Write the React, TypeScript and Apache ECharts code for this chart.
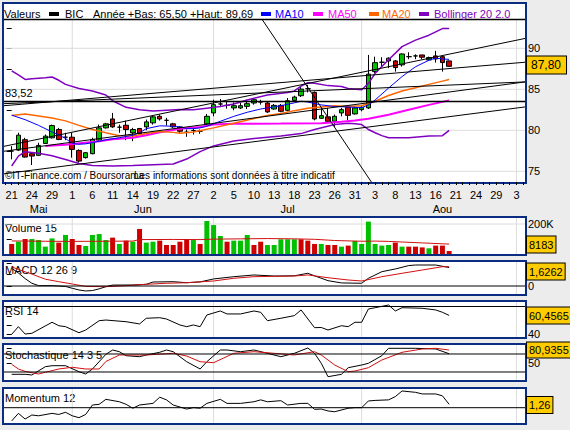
import React, { useEffect, useRef } from 'react';
import * as echarts from 'echarts';

const FONT = '"Liberation Sans", Arial, Helvetica, sans-serif';

// ---- x axis (trading-day index, 0 = 21 May) ----
const dateTickIdx = [0, 3, 6, 9, 12, 15, 18, 21, 24, 27, 30, 33, 36, 39, 42, 45, 48, 51, 54, 57, 60, 63, 66, 69, 72, 75];
const dateTickLabels = ['21', '24', '29', '1', '6', '11', '14', '19', '22', '27', '2', '5', '10', '13', '18', '23', '26', '31', '3', '8', '13', '16', '21', '24', '29', '3'];
const monthPos = [4, 19.5, 41, 64];
const monthLabels = ['Mai', 'Jun', 'Jul', 'Aou'];
const monthStarts = [9, 30, 52, 75];

// ---- candles ----
const opens = [77.47, 77.59, 78.86, 77.15, 76.95, 78.4, 79.09, 80.1, 79.16, 79.16,
  77.55, 76.67, 77.15, 78.8, 80.3, 81.39, 80.38, 80.62, 79.7, 80.22,
  80.42, 80.91, 81.71, 81.22, 80.79, 80.42, 79.77, 79.98, 79.9, 80.79,
  82.12, 83.21, 83.04, 82.73, 82.73, 82.92, 83.33, 83.45, 83.33, 82.6,
  83.04, 82.44, 83.65, 84.22, 85.07, 84.62, 81.47, 81.64, 81.1, 82.12,
  82.8, 82.0, 82.52, 82.73, 87.16, 88.3, 88.46, 88.46, 87.98, 88.98,
  89.07, 89.19, 88.58, 89.07, 88.98, 88.46];
const closes = [77.47, 79.41, 76.74, 76.86, 78.16, 79.29, 80.58, 78.89, 79.16, 77.67,
  76.25, 77.27, 78.89, 80.3, 80.79, 80.42, 80.38, 80.1, 80.1, 79.58,
  81.03, 81.64, 81.39, 81.22, 80.42, 79.89, 79.77, 79.98, 79.9, 81.71,
  83.13, 83.21, 83.04, 83.0, 83.0, 83.25, 83.73, 83.45, 82.24, 83.04,
  82.32, 83.61, 84.06, 85.03, 85.07, 81.39, 81.79, 81.1, 81.71, 82.52,
  81.83, 82.73, 82.8, 86.85, 88.25, 88.3, 88.79, 87.65, 89.31, 88.98,
  89.07, 88.91, 88.87, 88.7, 88.26, 87.8];
const lows = [76.46, 77.47, 76.67, 75.77, 76.86, 78.36, 79.0, 78.8, 78.8, 76.67,
  76.06, 76.55, 77.07, 78.68, 80.22, 80.3, 79.7, 78.8, 78.68, 79.49,
  80.01, 80.7, 81.19, 80.58, 80.3, 79.7, 79.21, 79.49, 79.58, 80.62,
  81.71, 82.85, 82.64, 82.44, 82.6, 82.6, 83.13, 83.13, 82.12, 82.52,
  82.2, 82.32, 83.53, 84.06, 84.62, 81.22, 81.39, 80.98, 80.42, 81.71,
  81.22, 81.92, 82.32, 82.6, 86.97, 87.77, 87.58, 87.16, 87.77, 88.67,
  88.67, 88.67, 88.5, 88.26, 87.16, 87.75];
const highs = [78.07, 79.7, 79.09, 77.27, 78.48, 79.49, 80.7, 80.3, 79.7, 79.7,
  77.67, 77.35, 79.09, 80.7, 80.91, 82.12, 80.7, 81.19, 80.3, 80.3,
  81.31, 81.79, 81.92, 81.52, 80.91, 80.5, 80.1, 80.3, 80.1, 82.0,
  83.73, 83.82, 83.53, 83.41, 83.33, 83.73, 83.94, 83.73, 83.53, 83.21,
  83.21, 83.94, 84.22, 85.35, 85.55, 84.74, 82.73, 82.73, 81.92, 82.73,
  83.0, 82.85, 83.0, 89.19, 88.98, 88.91, 88.91, 88.58, 89.39, 89.52,
  89.27, 89.19, 88.98, 89.69, 89.07, 88.5];

// ---- overlays ----
const ma10 = [[0, 81.85], [2, 81.3], [4, 80.6], [6, 79.8], [7, 79.45], [8, 79.0], [9, 78.4], [10, 78.3], [11, 78.35], [12, 78.5],
  [14, 78.85], [16, 79.1], [18, 79.4], [19, 79.7], [20, 80.2], [22, 80.55], [24, 80.5], [25, 80.4], [26, 80.2], [27, 80.2],
  [28, 80.3], [29, 80.5], [30, 80.8], [31, 81.1], [33, 81.7], [35, 82.2], [37, 82.6], [40, 83.0], [42, 83.35], [43, 83.55],
  [44, 83.45], [46, 83.1], [48, 82.9], [50, 82.85], [52, 82.75], [53, 83.1], [54, 83.7], [56, 85.15], [58, 86.55], [60, 87.75],
  [62, 88.55], [63, 88.8], [64, 88.7], [65, 88.65]];
const ma20 = [[0, 81.8], [2, 82.0], [4, 81.75], [6, 81.5], [8, 81.15], [10, 80.6], [12, 80.1], [14, 79.7], [16, 79.35], [18, 79.3],
  [20, 79.6], [22, 79.85], [24, 79.75], [25, 79.65], [27, 79.8], [30, 80.3], [33, 80.85], [36, 81.45], [38, 81.8], [40, 82.05],
  [42, 82.4], [44, 82.7], [46, 82.85], [48, 83.0], [50, 82.9], [52, 83.0], [54, 83.55], [56, 84.25], [58, 84.8], [60, 85.2],
  [62, 85.6], [64, 86.0], [65, 86.2]];
const ma50 = [[5, 78.1], [8, 78.25], [13, 78.68], [15, 78.9], [18, 79.1], [20, 79.4], [22, 79.75], [25, 80.2], [28, 80.4], [30, 80.7],
  [33, 80.8], [40, 80.82], [46, 80.85], [49, 81.05], [51, 81.2], [53, 81.4], [56, 81.9], [59, 82.5], [62, 83.1], [65, 83.65]];
const bollUp = [[0, 87.25], [1, 86.75], [2, 86.2], [3, 86.3], [5, 86.4], [6, 86.5], [7, 86.1], [8, 85.6], [10, 85.1], [12, 84.8],
  [14, 84.3], [15, 83.6], [17, 82.8], [19, 82.5], [21, 82.35], [23, 82.45], [25, 82.55], [27, 82.5], [29, 82.7], [31, 82.9],
  [33, 83.2], [35, 83.7], [38, 84.3], [41, 84.6], [42, 84.8], [43, 85.4], [44, 85.8], [45, 85.75], [47, 85.45], [49, 85.35],
  [50, 85.1], [52, 84.95], [53, 85.7], [54, 86.95], [56, 88.6], [58, 90.2], [60, 91.0], [62, 91.6], [64, 92.4], [65, 92.4]];
const bollLow = [[0, 75.65], [1, 76.85], [2, 77.4], [4, 77.2], [6, 76.9], [8, 76.45], [10, 75.95], [12, 75.7], [15, 75.65], [18, 75.7],
  [21, 75.8], [24, 75.9], [26, 76.5], [28, 77.4], [30, 78.1], [33, 78.7], [36, 79.0], [40, 79.3], [43, 79.6], [45, 80.1],
  [48, 80.7], [50, 80.85], [51, 80.8], [52, 80.7], [53, 80.1], [54, 79.7], [55, 79.35], [56, 79.1], [59, 79.1], [62, 79.3],
  [64, 79.35], [65, 80.0]];

// user-drawn lines: [[index, price], [index, price]]
const levelLine = 83.52;
const trendLines = [
  [[-1.14, 83.25], [76.27, 85.9]],
  [[-1.14, 83.0], [76.27, 88.3]],
  [[-1.14, 78.05], [76.27, 91.2]],
  [[-1.14, 77.45], [76.27, 85.9]],
  [[-1.14, 74.7], [76.27, 82.85]],
  [[36, 95.0], [55, 71.8]],
];

// ---- volume ----
const volumes = [67000, 82000, 100000, 100000, 93000, 49000, 104000, 76000, 127000, 100000,
  60000, 53000, 127000, 133000, 93000, 109000, 67000, 89000, 82000, 167000,
  76000, 82000, 89000, 60000, 60000, 82000, 98000, 93000, 67000, 220000,
  193000, 120000, 82000, 89000, 89000, 127000, 60000, 82000, 60000, 60000,
  98000, 98000, 98000, 98000, 89000, 67000, 67000, 60000, 60000, 49000,
  56000, 87000, 67000, 216000, 67000, 56000, 60000, 76000, 49000, 49000,
  49000, 44000, 38000, 56000, 56000, 8183];
const volumeDir = 'RGRGGGGRGRRGGGGRGRGRGGRRRRRGRGGGRGGGRRGGGGGRRRGRRGRGGGGGGRGRRRGRRR'.split('');
const volumeMA = [[0, 87000], [5, 85000], [9, 84000], [13, 85000], [18, 86000], [19, 96000], [24, 97000], [28, 96000], [30, 99000],
  [34, 101000], [38, 103000], [42, 101000], [45, 98000], [48, 90000], [52, 85000], [54, 86000], [56, 84000], [58, 80000], [61, 74000], [65, 66000]];

// ---- MACD ----
const macd = [[0, 1.56], [1, 1.15], [2, 0.65], [3, 0.24], [4, 0.03], [6, 0.03], [7, 0], [8, -0.04], [9, -0.2], [10, -0.35], [11, -0.44],
  [12, -0.4], [13, -0.25], [14, -0.06], [15, 0.08], [18, 0.09], [20, 0.15], [21, 0.35], [24, 0.38], [26, 0.29], [28, 0.36], [30, 0.62],
  [33, 0.82], [36, 0.97], [39, 0.88], [42, 0.9], [44, 1.12], [45, 0.9], [47, 0.47], [49, 0.27], [52, 0.24], [53, 0.68], [55, 1.26],
  [57, 1.5], [59, 1.8], [60, 1.85], [63, 1.85], [65, 1.6262]];
const macdSignal = [[0, 1.7], [1, 1.45], [3, 1.05], [5, 0.6], [7, 0.38], [9, 0.18], [11, -0.04], [14, -0.06], [17, 0.03], [20, 0.15],
  [23, 0.24], [26, 0.29], [30, 0.44], [33, 0.68], [36, 0.82], [39, 0.85], [42, 0.88], [44, 0.97], [47, 0.73], [50, 0.53], [52, 0.44],
  [55, 0.82], [58, 1.12], [61, 1.41], [64, 1.7], [65, 1.7]];

// ---- RSI 14 ----
const rsi = [[0, 40.2], [1, 48.4], [2, 40.5], [3, 41.3], [6, 53.1], [7, 49.4], [8, 48.4], [10, 41.9], [11, 44.8], [13, 54.8], [14, 55.5],
  [17, 53.7], [19, 51.3], [20, 57.4], [22, 58.0], [23, 56.6], [25, 50.2], [26, 48.4], [27, 50.2], [28, 48.4], [29, 60.9], [31, 65.2],
  [32, 62.0], [34, 62.0], [36, 65.2], [37, 63.8], [38, 54.8], [40, 57.4], [42, 60.2], [43, 66.3], [45, 47.3], [46, 47.5], [47, 44.8],
  [49, 49.4], [50, 48.4], [51, 53.1], [52, 53.1], [53, 67.3], [54, 68.7], [56, 71.6], [57, 65.2], [58, 68.7], [61, 68.1], [63, 66.3],
  [64, 63.8], [65, 60.4565]];

// ---- Stochastique 14 3 5 ----
const stochK = [[0, 12.3], [2, 12.3], [3, 10], [5, 37.7], [6, 41], [8, 41], [10, 21], [11, 13.3], [12, 30], [14, 79], [15, 93.3],
  [16, 87.7], [17, 74.3], [19, 71], [20, 76.7], [22, 85.7], [23, 93.3], [24, 87.7], [26, 54.3], [28, 30], [29, 54.3], [31, 93.3],
  [32, 93.3], [34, 87.7], [36, 93.3], [38, 82.3], [40, 71], [42, 82.3], [44, 100], [45, 82.3], [46, 49], [47, 4.3], [49, 12.3],
  [50, 34.3], [52, 43.3], [53, 49], [55, 74.3], [56, 99], [58, 99], [60, 99], [63, 96.7], [65, 80.9355]];
const stochD = [[0, 45.7], [1, 30], [2, 22], [4, 13.3], [5, 19], [7, 30], [9, 35.7], [11, 30], [13, 30], [14, 55], [16, 76.7],
  [20, 76.7], [24, 82.3], [26, 73.3], [28, 54.3], [30, 51], [33, 82.3], [36, 87.7], [39, 82.3], [42, 76.7], [45, 87.7], [46, 76.7],
  [48, 43.3], [50, 21], [51, 23.3], [53, 34.3], [55, 60], [58, 85.7], [61, 96.7], [63, 99], [65, 93.3]];

// ---- Momentum 12 ----
const momentum = [[0, -4.9], [1, -2.1], [2, -4.2], [3, -2.7], [4, -3.0], [6, -2.1], [7, -2.5], [8, -1.7], [9, -3.0], [10, -3.7],
  [11, -2.5], [12, 1.0], [13, 1.26], [14, 3.1], [16, 2.2], [17, 1.26], [18, -0.2], [19, 1.0], [21, 1.6], [22, 3.9], [23, 2.9],
  [24, 1.0], [26, -0.5], [27, 0], [28, -0.2], [29, 1.6], [31, 3.1], [32, 1.6], [34, 1.6], [36, 2.2], [37, 2.9], [38, 2.2], [40, 2.6],
  [41, 1.0], [43, 1.6], [44, 1.6], [45, -0.6], [46, -0.5], [47, -1.2], [48, -1.5], [50, -0.2], [51, 0], [52, 0], [53, 2.5],
  [54, 2.7], [56, 2.9], [57, 4.1], [58, 6.2], [60, 5.7], [61, 5.1], [63, 5.1], [64, 4.4], [65, 1.26]];

// ---- layout & styles ----
const X_MIN = -1.14;
const X_MAX = 76.27;
const GREEN = '#00c000';
const RED = '#cc0000';
const NAVY = '#0a2d82';
const GRIDC = '#dcdcdc';
const BOXC = '#ffcc00';

const grids = [
  { top: 20, height: 162 },
  { top: 218, height: 36 },
  { top: 262, height: 32 },
  { top: 302, height: 35 },
  { top: 345, height: 35 },
  { top: 389, height: 34 },
  { top: 196, height: 1 },
];
const yRange = [[73.7, 93.45], [0, 240000], [-0.705, 2.115], [37.32, 74.82], [-6.67, 110], [-5.67, 6.93], [0, 1]];
const yTicks = [[75, 77.5, 80, 82.5, 85, 87.5, 90, 92.5], [100000, 200000], [0, 1, 2], [40, 50, 60, 70], [50, 100], [], []];
const yLabelVals = [[75, 80, 85, 90], [200000], [0], [40], [50], [], []];
const hGrid = [[75, 80, 85, 90], [200000], [], [], [], []];
const hBlack = [[], [], [0], [70], [80, 20], [0]];

const panels = [[3, 3, 523, 180], [3, 217, 523, 38], [3, 261, 523, 34], [3, 301, 523, 37], [3, 344, 523, 37], [3, 388, 523, 36]];
const panelTitles = [['Volume 15', 228], ['MACD 12 26 9', 270], ['RSI 14', 311], ['Stochastique 14 3 5', 355], ['Momentum 12', 398]];

const dec = (v: number, d?: number) => (d == null ? String(v) : v.toFixed(d)).replace('.', ',');
const last = (a: number[][]) => a[a.length - 1][1];

function buildOption() {
  const dayTicks = Array.from({ length: 78 }, (_, k) => k - 1);
  const pick = (vals: number[], labels: string[]) => (v: number) => {
    const k = vals.findIndex((x) => Math.abs(x - v) < 0.01);
    return k >= 0 ? labels[k] : '';
  };

  const seg = (g: number, data: number[][], color: string, width: number, z: number) => ({
    type: 'line', xAxisIndex: g, yAxisIndex: g, data, symbol: 'none', showSymbol: false,
    lineStyle: { color, width }, silent: true, z, animation: false, clip: true,
  });

  const series: any[] = [];
  for (let g = 0; g < 6; g++) {
    monthStarts.forEach((m) => series.push(seg(g, [[m, yRange[g][0]], [m, yRange[g][1]]], GRIDC, 1, 1)));
    hGrid[g].forEach((v) => series.push(seg(g, [[X_MIN, v], [X_MAX, v]], GRIDC, 1, 1)));
    hBlack[g].forEach((v) => series.push(seg(g, [[X_MIN, v], [X_MAX, v]], '#000', 1, 4)));
  }

  series.push({
    type: 'candlestick', name: 'BIC', xAxisIndex: 0, yAxisIndex: 0, z: 2,
    data: opens.map((o, i) => [i, o, closes[i], lows[i], highs[i]]),
    barWidth: 5,
    itemStyle: { color: GREEN, color0: RED, borderColor: '#000', borderColor0: '#000', borderColorDoji: '#000', borderWidth: 1 },
  });
  series.push(seg(0, bollUp, '#8000c0', 1.5, 3));
  series.push(seg(0, bollLow, '#8000c0', 1.5, 3));
  series.push(seg(0, ma50, '#ff00ff', 2, 3));
  series.push(seg(0, ma20, '#ff6600', 1.5, 3));
  series.push(seg(0, ma10, '#0000ff', 1, 3));
  series.push(seg(0, [[X_MIN, levelLine], [X_MAX, levelLine]], '#000', 1.6, 4));
  trendLines.forEach((l) => series.push(seg(0, l, '#000', 1, 4)));

  series.push({
    type: 'bar', name: 'Volume', xAxisIndex: 1, yAxisIndex: 1, z: 2, barWidth: 5, barMinHeight: 3,
    data: volumes.map((v, i) => ({ value: [i, v], itemStyle: { color: volumeDir[i] === 'G' ? GREEN : RED } })),
  });
  series.push(seg(1, volumeMA, '#d01010', 1, 3));
  series.push(seg(2, macd, '#000', 1, 3));
  series.push(seg(2, macdSignal, '#d01010', 1, 3));
  series.push(seg(3, rsi, '#000', 1, 3));
  series.push(seg(4, stochK, '#000', 1, 3));
  series.push(seg(4, stochD, '#d01010', 1, 3));
  series.push(seg(5, momentum, '#000', 1, 3));

  const txt = (text: string, x: number, y: number, o: any = {}) => ({
    type: 'text', x, y, z: o.z ?? 20, silent: true,
    style: { text, fill: o.color || '#000', font: `${o.size || 11}px ${FONT}`, verticalAlign: 'middle', align: 'left' },
  });
  const swatch = (x: number, color: string) => ({ type: 'rect', z: 20, silent: true, shape: { x, y: 12, width: 10, height: 4 }, style: { fill: color } });
  const box = (text: string, y: number, size = 11, padding = [2, 2, 2, 2]) => ({
    type: 'text', x: 527, y, z: 60, silent: true,
    style: {
      text, fill: '#000', font: `${size}px ${FONT}`, verticalAlign: 'middle', align: 'left',
      backgroundColor: BOXC, borderColor: '#000', borderWidth: 1, padding,
    },
  });

  const graphic: any[] = [];
  panels.forEach(([x, y, w, h]) => graphic.push({
    type: 'rect', z: -10, silent: true, shape: { x, y, width: w, height: h },
    style: { fill: '#ffffff', stroke: NAVY, lineWidth: 2 },
  }));
  graphic.push({ type: 'line', z: 20, silent: true, shape: { x1: 4, y1: 19.5, x2: 525, y2: 19.5 }, style: { stroke: '#000', lineWidth: 1.5 } });
  graphic.push(txt('Valeurs', 4, 13.5));
  graphic.push(swatch(49, '#000'));
  graphic.push(txt('BIC', 65, 13.5));
  graphic.push(txt('Année +Bas: 65,50 +Haut: 89,69', 93, 13.5));
  graphic.push(swatch(261, '#0000ff'));
  graphic.push(txt('MA10', 275, 13.5, { color: '#0000ff' }));
  graphic.push(swatch(313, '#ff00ff'));
  graphic.push(txt('MA50', 328, 13.5, { color: '#ff00ff' }));
  graphic.push(swatch(369, '#ff6600'));
  graphic.push(txt('MA20', 382, 13.5, { color: '#ff6600' }));
  graphic.push(swatch(419, '#8000c0'));
  graphic.push(txt('Bollinger 20 2.0', 434, 13.5, { color: '#8000c0' }));
  graphic.push(txt(dec(levelLine), 5, 93));
  graphic.push(txt('©IT-Finance.com / Boursorama', 5, 175.5, { size: 10 }));
  graphic.push(txt('Les informations sont données à titre indicatif', 134, 175.5, { size: 10 }));
  panelTitles.forEach(([t, y]) => graphic.push(txt(t as string, 5, y as number, { z: 1 })));

  graphic.push(box(dec(closes[closes.length - 1], 2), 65, 12, [3, 5, 2, 4]));
  graphic.push(box(String(volumes[volumes.length - 1]), 244.5, 11, [3, 2, 2, 2]));
  graphic.push(box(dec(last(macd)), 271.5, 11, [3, 2, 2, 2]));
  graphic.push(box(dec(last(rsi)), 315.5, 11, [3, 2, 2, 2]));
  graphic.push(box(dec(last(stochK)), 350, 11, [2, 2, 2, 2]));
  graphic.push(box(dec(last(momentum)), 405, 11, [3, 2, 2, 2]));

  return {
    animation: false,
    backgroundColor: '#ececec',
    textStyle: { fontFamily: FONT },
    grid: grids.map((g) => ({ left: 4, width: 521, top: g.top, height: g.height, containLabel: false, outerBoundsMode: 'none', show: false })),
    xAxis: grids.map((_, i) => ({
      type: 'value', gridIndex: i, min: X_MIN, max: X_MAX, position: 'bottom',
      show: i === 0 || i === 6,
      axisLine: { show: false },
      axisTick: i === 0 ? { show: true, length: 3, customValues: dayTicks, lineStyle: { color: '#000', width: 1 } } : { show: false },
      axisLabel: i === 0
        ? { show: true, customValues: dateTickIdx, formatter: pick(dateTickIdx, dateTickLabels), margin: 7, color: '#000', fontSize: 11, fontFamily: FONT }
        : i === 6
          ? { show: true, customValues: monthPos, formatter: pick(monthPos, monthLabels), margin: 6, color: '#000', fontSize: 11, fontFamily: FONT }
          : { show: false },
      splitLine: { show: false },
    })),
    yAxis: grids.map((_, i) => ({
      type: 'value', gridIndex: i, position: 'right', min: yRange[i][0], max: yRange[i][1],
      show: i < 6,
      axisLine: { show: false },
      axisTick: yTicks[i].length
        ? { show: true, inside: true, length: 5, customValues: yTicks[i], lineStyle: { color: '#000', width: 1 } }
        : { show: false },
      axisLabel: yLabelVals[i].length
        ? {
          show: true, customValues: yLabelVals[i], margin: 3, color: '#000', fontSize: 11, fontFamily: FONT,
          lineHeight: 11,
          formatter: i === 1 ? (v: number) => `${v / 1000}K` : (v: number) => String(v),
        }
        : { show: false },
      splitLine: { show: false },
    })),
    series,
    graphic,
  };
}

export default function App() {
  const ref = useRef<HTMLDivElement>(null);
  useEffect(() => {
    if (!ref.current) return;
    const chart = echarts.init(ref.current, null, { renderer: 'svg' });
    chart.setOption(buildOption() as any);
    return () => chart.dispose();
  }, []);
  return <div ref={ref} style={{ position: 'absolute', left: 0, top: 0, width: 570, height: 430 }} />;
}
